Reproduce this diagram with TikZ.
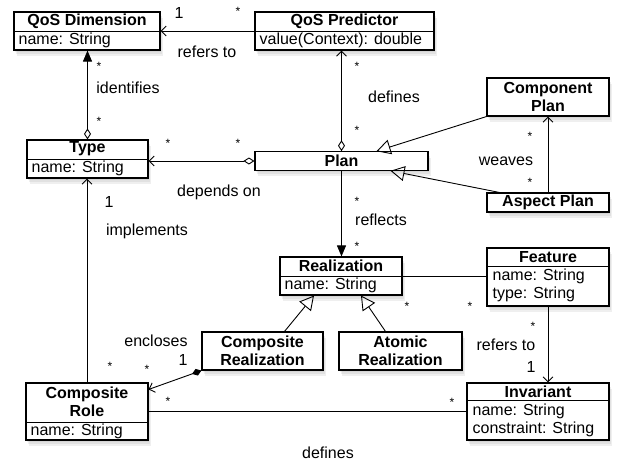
\documentclass[tikz,border=0pt]{standalone}
\usepackage{fontspec}
\setmainfont{Liberation Sans}
\usetikzlibrary{arrows.meta,shadows,calc}

\tikzset{
  barb/.tip={Straight Barb[length=5pt,width=10pt]},
  odia/.tip={Diamond[open,length=11pt,width=7pt]},
  fdia/.tip={Diamond[length=10pt,width=7pt]},
  ftri/.tip={Triangle[length=11pt,width=9pt]},
  umlbox/.style={draw, line width=1.1pt, fill=white, inner sep=0pt,
    drop shadow={opacity=0.12, shadow xshift=1pt, shadow yshift=-2pt},
    drop shadow={opacity=0.12, shadow xshift=2pt, shadow yshift=-4pt},
    drop shadow={opacity=0.12, shadow xshift=3pt, shadow yshift=-6pt}},
  divider/.style={line width=0.8pt},
  title/.style={font=\fontsize{16}{18.5}\selectfont\bfseries, align=center, inner sep=0pt},
  attr/.style={anchor=west, align=left, inner sep=0pt, font=\fontsize{16}{18}\selectfont},
  lbl/.style={inner sep=0pt, anchor=base},
  mult/.style={inner sep=0pt, anchor=base, font=\fontsize{12}{12}\selectfont},
  assoc/.style={line width=0.9pt},
  gen/.style={assoc, -{Triangle[open,length=14pt,width=15pt]}},
}

\begin{document}
\begin{tikzpicture}[x=1pt, y=-1pt, font=\fontsize{16}{19}\selectfont]
\useasboundingbox[fill=white] (0,0) rectangle (638,464);

% classes
\node[umlbox, minimum width=146pt, minimum height=38pt] (qd) at (87,31) {};
\draw[divider] (qd.west) -- (qd.east);
\node[title] (qd-t) at ($(qd.north)+(0,9.5)$) {QoS Dimension};
\node[attr] (qd-a) at ($(qd.north west)+(5,28.5)$) {name: String};

\node[umlbox, minimum width=179pt, minimum height=38pt] (qp) at (344.5,31) {};
\draw[divider] (qp.west) -- (qp.east);
\node[title] (qp-t) at ($(qp.north)+(0,9.5)$) {QoS Predictor};
\node[attr] (qp-a) at ($(qp.north west)+(5,28.5)$) {value(Context): double};

\node[umlbox, minimum width=122pt, minimum height=38pt] (cp) at (548,97) {};
\node[title] (cp-t) at (cp.center) {Component\\Plan};

\node[umlbox, minimum width=121pt, minimum height=38pt] (type) at (87.5,159) {};
\draw[divider] (type.west) -- (type.east);
\node[title] (type-t) at ($(type.north)+(0,9.5)$) {Type};
\node[attr] (type-a) at ($(type.north west)+(5,28.5)$) {name: String};

\node[umlbox, minimum width=173pt, minimum height=18.5pt] (plan) at (341.5,161) {};
\node[title] (plan-t) at (plan.center) {Plan};

\node[umlbox, minimum width=122pt, minimum height=19pt] (ap) at (548,202.5) {};
\node[title] (ap-t) at (ap.center) {Aspect Plan};

\node[umlbox, minimum width=122pt, minimum height=38pt] (real) at (341,276) {};
\draw[divider] (real.west) -- (real.east);
\node[title] (real-t) at ($(real.north)+(0,9.5)$) {Realization};
\node[attr] (real-a) at ($(real.north west)+(5,28.5)$) {name: String};

\node[umlbox, minimum width=122pt, minimum height=58pt] (feat) at (548,277) {};
\draw[divider] ($(feat.north west)+(0,19)$) -- ($(feat.north east)+(0,19)$);
\node[title] (feat-t) at ($(feat.north)+(0,9.5)$) {Feature};
\node[attr] (feat-a) at ($(feat.north west)+(6,38)$) {name: String\\type: String};

\node[umlbox, minimum width=121pt, minimum height=38pt] (cr) at (262.5,351) {};
\node[title] (cr-t) at (cr.center) {Composite\\Realization};

\node[umlbox, minimum width=123pt, minimum height=38pt] (ar) at (400.5,351) {};
\node[title] (ar-t) at (ar.center) {Atomic\\Realization};

\node[umlbox, minimum width=122pt, minimum height=57pt] (crole) at (87,411.5) {};
\draw[divider] ($(crole.south west)+(0,-18.5)$) -- ($(crole.south east)+(0,-18.5)$);
\node[title] (crole-t) at ($(crole.north)+(0,19.5)$) {Composite\\Role};
\node[attr] (crole-a) at ($(crole.south west)+(5,-9.5)$) {name: String};

\node[umlbox, minimum width=142pt, minimum height=57pt] (inv) at (538,411.5) {};
\draw[divider] ($(inv.north west)+(0,17.5)$) -- ($(inv.north east)+(0,17.5)$);
\node[title] (inv-t) at ($(inv.north)+(0,9)$) {Invariant};
\node[attr] (inv-a) at ($(inv.north west)+(6,38)$) {name: String\\constraint: String};

% connectors
\draw[assoc, -barb] (qp.west) -- (qd.east);
\draw[assoc, odia-ftri] (type.north) -- (type.north |- qd.south);
\draw[assoc, odia-barb] (plan.west) -- (plan.west -| type.east);
\draw[assoc, odia-barb] (plan.north) -- (plan.north |- qp.south);
\draw[gen] (cp.south west) -- ($(plan.north)+(35,0)$);
\draw[gen] ($(ap.north west)+(13,0)$) -- ($(plan.south)+(49,0)$);
\draw[assoc, -barb] (ap.north) -- (cp.south);
\draw[assoc, -ftri] (plan.south) -- (plan.south |- real.north);
\draw[assoc] (real.east) -- (real.east -| feat.west);
\draw[gen] ($(cr.north)+(22,0)$) -- ($(real.south)+(-27,0)$);
\draw[gen] ($(ar.north)+(-15,0)$) -- ($(real.south)+(20,0)$);
\draw[assoc, fdia-barb] (cr.south west) -- ($(crole.north east)+(0,7)$);
\draw[assoc] (crole.east) -- (inv.west);
\draw[assoc, -barb] (feat.south) -- (feat.south |- inv.north);
\draw[assoc, -barb] (crole.north) -- (crole.north |- type.south);

% labels
\node[lbl] (l-qref) at (207,57) {refers to};
\node[lbl] (l-ident) at (128,93) {identifies};
\node[lbl] (l-dep) at (219,196) {depends on};
\node[lbl] (l-impl) at (147,235) {implements};
\node[lbl] (l-qdef) at (394,102) {defines};
\node[lbl] (l-weave) at (506,165) {weaves};
\node[lbl] (l-refl) at (381,225) {reflects};
\node[lbl] (l-encl) at (156,346) {encloses};
\node[lbl] (l-idef) at (328,458) {defines};
\node[lbl] (l-fref) at (506,350) {refers to};

% multiplicities
\node[lbl] (o1) at (179,18) {1};
\node[lbl] (o2) at (109,207) {1};
\node[lbl] (o3) at (183,365) {1};
\node[lbl] (o4) at (531,372) {1};
\foreach \mx/\my [count=\i] in {238/8, 99/63, 99/118, 168/140, 238/140, 357/63, 357/127,
    530/133, 530/179, 357/198, 357/243, 407/303, 470/303, 110/363, 147/366,
    168/398, 452/399, 533/323}
  \node[mult] (s\i) at (\mx,\my+7) {*};
\end{tikzpicture}
\end{document}
